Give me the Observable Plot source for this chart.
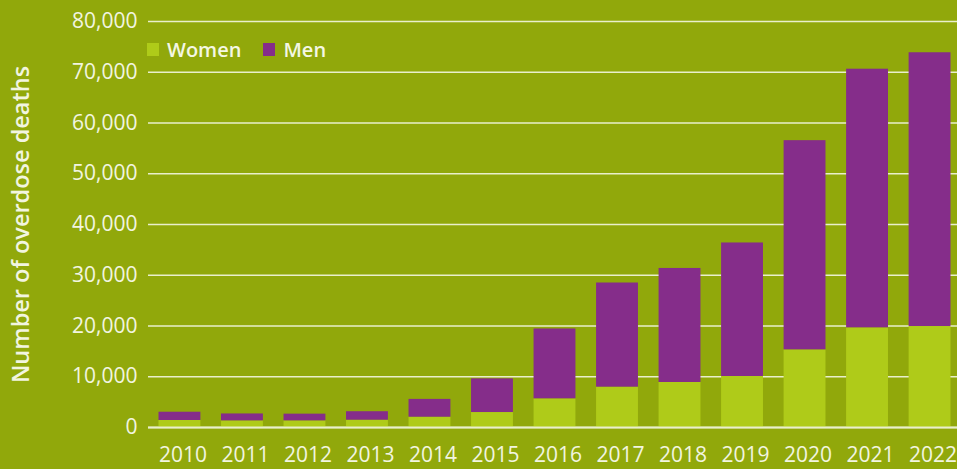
<!DOCTYPE html>
<html>
<head>
<meta charset="utf-8">
<script src="https://cdn.jsdelivr.net/npm/d3@7"></script>
<script src="https://cdn.jsdelivr.net/npm/@observablehq/plot@0.6"></script>
<style>
  html, body { margin: 0; padding: 0; background: #91a80b; }
  #wrap { position: relative; width: 957px; height: 469px; overflow: hidden; }
  .legend { position: absolute; top: 36px; left: 147px; display: flex; align-items: center;
    font-family: "Open Sans", sans-serif; font-weight: 600; font-size: 20px; color: #f4f7e4; }
  .legend .sw { display: inline-block; width: 12px; height: 13px; margin-right: 8px; }
  .legend .item { display: flex; align-items: center; margin-right: 22px; }
  [aria-label="y-axis label"] text { font-weight: 600; font-size: 23.5px; }
</style>
</head>
<body>
<div id="wrap"></div>
<script>
const years = ["2010","2011","2012","2013","2014","2015","2016","2017","2018","2019","2020","2021","2022"];
const women = [1380, 1310, 1310, 1440, 2030, 2950, 5650, 7950, 8870, 10050, 15300, 19640, 19900];
const men   = [1630, 1360, 1320, 1670, 3510, 6630, 13760, 20520, 22470, 26310, 41220, 50960, 53940];
const seriesNames = ["Women", "Men"];
const seriesColors = ["#afcb19", "#852d8a"];
const yTicks = [0, 10000, 20000, 30000, 40000, 50000, 60000, 70000, 80000];

const rows = [];
years.forEach((y, i) => {
  rows.push({year: y, sex: "Women", value: women[i]});
  rows.push({year: y, sex: "Men", value: men[i]});
});

const chart = Plot.plot({
  width: 957,
  height: 469,
  marginLeft: 148,
  marginRight: 0,
  marginTop: 21,
  marginBottom: 42,
  style: {background: "#91a80b", color: "#f2f5e0", fontFamily: "'Open Sans', sans-serif", fontSize: "21px"},
  x: {domain: years, range: [148, 961], paddingInner: 0.33, paddingOuter: 0.168, round: false, label: null},
  y: {domain: [0, 80000], label: "Number of overdose deaths"},
  color: {domain: seriesNames, range: seriesColors},
  marks: [
    Plot.ruleY(yTicks, {stroke: "#e9efcc", strokeWidth: 1.5, strokeOpacity: 1}),
    Plot.barY(rows, {x: "year", y: "value", fill: "sex"}),
    Plot.ruleY([0], {stroke: "#e9efcc", strokeWidth: 2}),
    Plot.axisX({tickSize: 0, tickPadding: 20, dx: 3, fill: "#f2f5e0", fontSize: 21}),
    Plot.axisY({ticks: yTicks, tickSize: 0, tickPadding: 11, tickFormat: d3.format(","),
      fill: "#f2f5e0", fontSize: 21, label: "Number of overdose deaths", labelAnchor: "center",
      labelArrow: "none", labelOffset: 136})
  ]
});
const wrap = document.getElementById("wrap");
wrap.appendChild(chart);

const legend = document.createElement("div");
legend.className = "legend";
seriesNames.forEach((n, i) => {
  const it = document.createElement("div");
  it.className = "item";
  const sw = document.createElement("span");
  sw.className = "sw";
  sw.style.background = seriesColors[i];
  it.appendChild(sw);
  it.appendChild(document.createTextNode(n));
  legend.appendChild(it);
});
wrap.appendChild(legend);
</script>
</body>
</html>
